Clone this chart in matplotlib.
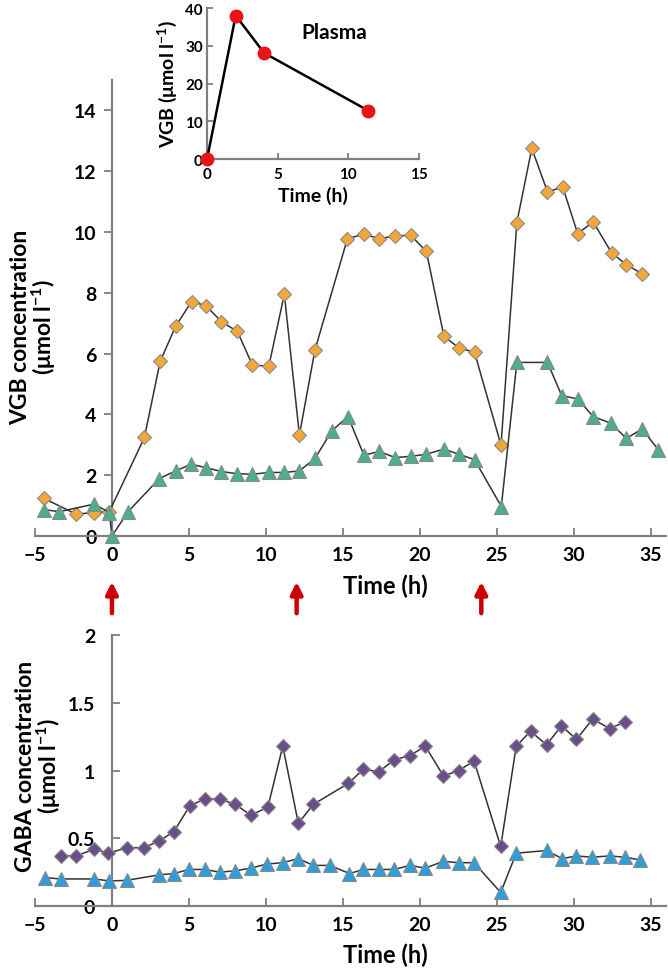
import matplotlib
matplotlib.use("Agg")
import matplotlib.pyplot as plt
from matplotlib.ticker import FuncFormatter

plt.rcParams['font.family'] = ['Lato', 'DejaVu Sans']
plt.rcParams['font.weight'] = 'bold'
plt.rcParams['mathtext.fontset'] = 'custom'
plt.rcParams['mathtext.rm'] = 'Lato:bold'
plt.rcParams['mathtext.bf'] = 'Lato:bold'
plt.rcParams['mathtext.it'] = 'Lato:bold'

# VGB in dialysate (top panel)
vgb_d_t = [-4.43, -2.34, -1.15, -0.17, 2.11, 3.13, 4.14, 5.17, 6.1, 7.11, 8.15, 9.12,
           10.19, 11.2, 12.18, 13.19, 15.3, 16.37, 17.38, 18.4, 19.42, 20.43, 21.57,
           22.54, 23.56, 25.28, 26.31, 27.28, 28.3, 29.29, 30.26, 31.27, 32.46, 33.43, 34.44]
vgb_d_v = [1.24, 0.72, 0.77, 0.80, 3.24, 5.74, 6.90, 7.71, 7.58, 7.05, 6.73, 5.63,
           5.58, 7.95, 3.32, 6.12, 9.78, 9.93, 9.78, 9.87, 9.89, 9.36, 6.57,
           6.19, 6.04, 2.99, 10.31, 12.75, 11.32, 11.48, 9.95, 10.33, 9.32, 8.92, 8.63]

vgb_t_t = [-4.43, -3.42, -1.15, -0.17, 0.0, 1.05, 3.08, 4.14, 5.13, 6.1, 7.11, 8.12,
           9.12, 10.19, 11.2, 12.18, 13.19, 14.29, 15.34, 16.37, 17.38, 18.4, 19.42,
           20.43, 21.57, 22.54, 23.56, 25.3, 26.31, 28.3, 29.22, 30.26, 31.27, 32.41,
           33.43, 34.44, 35.5]
vgb_t_v = [0.87, 0.80, 1.05, 0.77, 0.0, 0.80, 1.89, 2.14, 2.36, 2.25, 2.12, 2.05,
           2.03, 2.09, 2.09, 2.14, 2.55, 3.46, 3.93, 2.66, 2.78, 2.58, 2.62,
           2.69, 2.86, 2.69, 2.51, 0.97, 5.71, 5.71, 4.62, 4.51, 3.93, 3.71,
           3.21, 3.52, 2.84]

# GABA (bottom panel)
gaba_d_t = [-3.34, -2.33, -1.14, -0.24, 0.97, 2.05, 3.06, 4.03, 5.06, 6.03, 7.0, 8.02,
            9.03, 10.13, 11.1, 12.11, 13.08, 15.37, 16.34, 17.33, 18.35, 19.36, 20.36,
            21.54, 22.52, 23.53, 25.26, 26.27, 27.2, 28.24, 29.21, 30.18, 31.24, 32.34, 33.36]
gaba_d_v = [0.37, 0.37, 0.42, 0.39, 0.43, 0.43, 0.48, 0.55, 0.74, 0.79, 0.79, 0.75,
            0.67, 0.73, 1.18, 0.61, 0.75, 0.906, 1.01, 0.99, 1.08, 1.11, 1.18,
            0.96, 1.00, 1.07, 0.44, 1.18, 1.29, 1.19, 1.33, 1.23, 1.38, 1.31, 1.36]

gaba_t_t = [-4.37, -3.34, -1.14, -0.17, 0.97, 3.06, 4.03, 5.0, 6.03, 7.0, 8.02, 9.03,
            10.06, 11.1, 12.11, 13.08, 14.16, 15.43, 16.34, 17.33, 18.35, 19.36, 20.36,
            21.54, 22.52, 23.53, 25.26, 26.27, 28.24, 29.25, 30.18, 31.2, 32.34, 33.36, 34.33]
gaba_t_v = [0.21, 0.20, 0.20, 0.185, 0.19, 0.23, 0.24, 0.27, 0.27, 0.25, 0.26, 0.28,
            0.31, 0.32, 0.35, 0.30, 0.30, 0.24, 0.27, 0.27, 0.27, 0.30, 0.28,
            0.33, 0.32, 0.32, 0.10, 0.39, 0.41, 0.35, 0.37, 0.36, 0.37, 0.36, 0.34]

# plasma inset
plasma_t = [0, 2.03, 4.04, 11.42]
plasma_v = [0, 38.0, 28.1, 12.8]

dose_times = [0, 12, 24]

spine_c = '#808080'
line_c = '#333333'

fig = plt.figure(figsize=(6.68, 9.70), dpi=100)


def style(ax, ytick_dir):
    for s in ['top', 'right']:
        ax.spines[s].set_visible(False)
    for s in ['left', 'bottom']:
        ax.spines[s].set_color(spine_c)
        ax.spines[s].set_linewidth(1.6)
    ax.tick_params(axis='x', direction='in', length=6, width=1.3, color=spine_c, pad=7)
    ax.tick_params(axis='y', direction=ytick_dir, length=6, width=1.3, color=spine_c)


fmt = FuncFormatter(lambda v, p: f"{v:g}".replace('-', '\u2212'))

# top panel
ax1 = fig.add_axes([0.0524, 0.4464, 0.9446, 0.4701])
style(ax1, 'out')
ax1.spines['left'].set_position(('data', 0))
ax1.plot(vgb_d_t, vgb_d_v, color=line_c, lw=1.1, marker='D', ms=7, mfc='#F4A636',
         mec='#8a8a8a', mew=0.8, clip_on=False, zorder=3)
ax1.plot(vgb_t_t, vgb_t_v, color=line_c, lw=1.1, marker='^', ms=9.5, mfc='#4DAE8B',
         mec='#8a8a8a', mew=0.8, clip_on=False, zorder=3)
ax1.set_xlim(-5, 36)
ax1.set_ylim(0, 15)
ax1.set_xticks([-5, 0, 5, 10, 15, 20, 25, 30, 35])
ax1.set_yticks([0, 2, 4, 6, 8, 10, 12, 14])
ax1.xaxis.set_major_formatter(fmt)
ax1.tick_params(axis='both', labelsize=14)
ax1.tick_params(axis='y', pad=5)
ax1.set_xlabel('Time (h)', fontsize=17, fontweight='bold')
ax1.xaxis.set_label_coords((385 - 35) / 631, -0.082)
ax1.set_ylabel('VGB concentration\n(\u03bcmol l$^{-1}$)', fontsize=16.5, fontweight='bold',
               linespacing=0.95)
ax1.yaxis.set_label_coords(0.037, 0.46)

# dosing arrows
for t in dose_times:
    ax1.annotate('', xy=(t, 1 - 580 / 970), xytext=(t, 1 - 617 / 970),
                 xycoords=('data', 'figure fraction'), textcoords=('data', 'figure fraction'),
                 annotation_clip=False,
                 arrowprops=dict(arrowstyle='-|>,head_width=0.35,head_length=0.7',
                                 color='#CC0000', lw=3.2))

# bottom panel
ax2 = fig.add_axes([0.0524, 0.0649, 0.9446, 0.2794])
style(ax2, 'in')
ax2.spines['left'].set_position(('data', 0))
ax2.plot(gaba_d_t, gaba_d_v, color=line_c, lw=1.1, marker='D', ms=7, mfc='#6A4E8C',
         mec='#8a8a8a', mew=0.8, clip_on=False, zorder=3)
ax2.plot(gaba_t_t, gaba_t_v, color=line_c, lw=1.1, marker='^', ms=9.5, mfc='#2D9ED8',
         mec='#8a8a8a', mew=0.8, clip_on=False, zorder=3)
ax2.set_xlim(-5, 36)
ax2.set_ylim(0, 2)
ax2.set_xticks([-5, 0, 5, 10, 15, 20, 25, 30, 35])
ax2.set_yticks([0, 0.5, 1, 1.5, 2])
ax2.xaxis.set_major_formatter(fmt)
ax2.yaxis.set_major_formatter(fmt)
ax2.tick_params(axis='both', labelsize=14)
ax2.tick_params(axis='y', pad=12)
ax2.set_xlabel('Time (h)', fontsize=17, fontweight='bold')
ax2.xaxis.set_label_coords((385 - 35) / 631, -0.135)
ax2.set_ylabel('GABA concentration\n(\u03bcmol l$^{-1}$)', fontsize=16.5, fontweight='bold',
               linespacing=0.95)
ax2.yaxis.set_label_coords(0.045, 0.52)

# inset: plasma
ax3 = fig.add_axes([0.3099, 0.835, 0.3174, 0.1557])
style(ax3, 'in')
ax3.plot(plasma_t, plasma_v, color='black', lw=1.8, marker='o', ms=9, mfc='#E8141B',
         mec='#E8141B', clip_on=False, zorder=3)
ax3.set_xlim(0, 15)
ax3.set_ylim(0, 40)
ax3.set_xticks([0, 5, 10, 15])
ax3.set_yticks([0, 10, 20, 30, 40])
ax3.tick_params(axis='both', labelsize=11, length=4)
ax3.tick_params(axis='x', pad=6)
ax3.tick_params(axis='y', pad=3)
ax3.set_xlabel('Time (h)', fontsize=14, fontweight='bold', labelpad=3)
ax3.set_ylabel('VGB (\u03bcmol l$^{-1}$)', fontsize=14, fontweight='bold', labelpad=4)
ax3.text(0.6, 0.84, 'Plasma', transform=ax3.transAxes, fontsize=15, fontweight='bold',
         ha='center', va='center')

fig.savefig('out.png', dpi=100)
